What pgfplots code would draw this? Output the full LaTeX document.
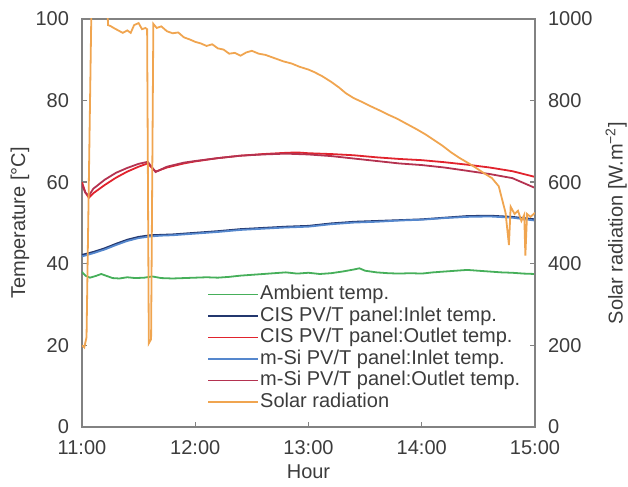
\documentclass[border=0pt]{standalone}
\usepackage{fontspec}
\setmainfont{Liberation Sans}
\usepackage{pgfplots}
\pgfplotsset{compat=1.18}
\definecolor{cAmb}{RGB}{70,175,90}
\definecolor{cCisIn}{RGB}{35,55,110}
\definecolor{cCisOut}{RGB}{225,35,45}
\definecolor{cSiIn}{RGB}{85,135,205}
\definecolor{cSiOut}{RGB}{180,50,80}
\definecolor{cSolar}{RGB}{240,165,80}
\definecolor{cAxis}{RGB}{130,130,130}
\definecolor{cText}{RGB}{60,60,60}
\pgfplotsset{
  common/.style={
    scale only axis, width=226.5pt, height=204pt,
    xmin=11, xmax=15,
    tick align=inside,
    major tick length=2.5pt,
    axis line style={cAxis, line width=0.8pt},
    every tick/.style={cAxis, line width=0.7pt},
    tick label style={font=\fontsize{10}{12}\selectfont, text=cText},
    label style={font=\fontsize{10}{12}\selectfont, text=cText},
    /pgf/number format/assume math mode=true,
    /pgf/number format/1000 sep={},
  }
}
\begin{document}
\begin{tikzpicture}
\begin{axis}[common, name=main,
  ymin=0, ymax=100,
  xtick={11,12,13,14,15},
  xticklabels={11:00,12:00,13:00,14:00,15:00},
  xtick pos=bottom,
  ytick={0,20,...,100},
  ytick pos=left,
  xticklabel style={yshift=-3pt},
  yticklabel style={xshift=-3pt},
  xlabel={Hour},
  xlabel style={at={(axis description cs:0.5,-0.11)}, anchor=center},
  ylabel={Temperature [°C]},
  ylabel style={at={(axis description cs:-0.137,0.5)}, anchor=center},
  legend style={draw=none, fill=none, at={(axis description cs:0.276,0.352)}, anchor=north west,
    font=\fontsize{10}{12}\selectfont, text=cText, inner sep=0pt, row sep=0pt,
    nodes={inner sep=0.5pt, text height=7.6pt, text depth=2.15pt}},
  legend cell align=left,
  legend image code/.code={\draw[#1] (0pt,0pt) -- (25pt,0pt);},
  every axis plot/.append style={line width=0.9pt},
]
\addplot[cAmb] coordinates {
(11.00,38.0) (11.03,37.1) (11.07,36.6) (11.12,37.0) (11.17,37.5) (11.22,37.0) (11.27,36.5)
(11.33,36.4) (11.40,36.7) (11.47,36.5) (11.55,36.6) (11.62,36.9) (11.70,36.5) (11.80,36.4)
(11.90,36.5) (12.00,36.6) (12.10,36.7) (12.20,36.6) (12.30,36.8) (12.40,37.1) (12.50,37.3)
(12.60,37.5) (12.70,37.7) (12.80,37.9) (12.90,37.6) (13.00,37.8) (13.10,37.5) (13.20,37.7)
(13.30,38.1) (13.40,38.6) (13.45,38.9) (13.50,38.3) (13.60,37.9) (13.70,37.7) (13.80,37.6)
(13.90,37.7) (14.00,37.6) (14.10,37.9) (14.20,38.1) (14.30,38.3) (14.40,38.5) (14.50,38.3)
(14.60,38.1) (14.70,37.9) (14.80,37.8) (14.90,37.6) (15.00,37.5)};
\addlegendentry{Ambient temp.}
\addplot[cCisIn] coordinates {
(11.00,42.2) (11.10,42.9) (11.20,43.8) (11.30,44.9) (11.40,45.9) (11.50,46.6) (11.60,47.0)
(11.70,47.1) (11.80,47.2) (11.90,47.4) (12.00,47.6) (12.20,48.0) (12.40,48.5) (12.60,48.8)
(12.80,49.1) (13.00,49.3) (13.20,49.9) (13.40,50.3) (13.60,50.5) (13.80,50.7) (14.00,50.9)
(14.20,51.3) (14.40,51.7) (14.60,51.8) (14.80,51.5) (15.00,50.9)};
\addlegendentry{CIS PV/T panel:Inlet temp.}
\addplot[cCisOut] coordinates {
(11.00,60.0) (11.03,57.5) (11.06,56.2) (11.10,57.3) (11.20,59.3) (11.30,61.1) (11.40,62.6)
(11.50,63.8) (11.58,64.6) (11.65,62.6) (11.75,63.6) (11.90,64.6) (12.00,65.1) (12.20,65.9)
(12.40,66.5) (12.60,66.9) (12.80,67.2) (12.90,67.3) (13.00,67.1) (13.20,66.9) (13.40,66.6)
(13.60,66.1) (13.80,65.7) (14.00,65.4) (14.20,64.9) (14.40,64.3) (14.60,63.6) (14.80,62.7)
(15.00,61.3)};
\addlegendentry{CIS PV/T panel:Outlet temp.}
\addplot[cSiIn] coordinates {
(11.00,41.8) (11.10,42.6) (11.20,43.5) (11.30,44.6) (11.40,45.6) (11.50,46.3) (11.60,46.7)
(11.70,46.9) (11.80,47.0) (11.90,47.2) (12.00,47.4) (12.20,47.8) (12.40,48.3) (12.60,48.6)
(12.80,48.9) (13.00,49.1) (13.20,49.7) (13.40,50.1) (13.60,50.3) (13.80,50.6) (14.00,50.8)
(14.20,51.2) (14.40,51.5) (14.60,51.6) (14.80,51.3) (15.00,50.6)};
\addlegendentry{m-Si PV/T panel:Inlet temp.}
\addplot[cSiOut] coordinates {
(11.00,59.4) (11.03,57.4) (11.06,56.7) (11.10,58.4) (11.20,60.6) (11.30,62.3) (11.40,63.5)
(11.50,64.5) (11.58,65.0) (11.65,62.5) (11.75,63.8) (11.90,64.8) (12.00,65.2) (12.20,65.9)
(12.40,66.5) (12.60,66.8) (12.80,67.0) (13.00,66.8) (13.20,66.4) (13.40,65.8) (13.60,65.2)
(13.80,64.6) (14.00,64.2) (14.20,63.6) (14.40,62.8) (14.60,62.0) (14.80,61.0) (15.00,58.6)};
\addlegendentry{m-Si PV/T panel:Outlet temp.}
\addlegendimage{cSolar, line width=0.9pt}
\addlegendentry{Solar radiation}
\end{axis}
\begin{axis}[common,
  ymin=0, ymax=1000,
  axis x line=none,
  axis y line*=right,
  ytick={0,200,...,1000},
  yticklabel style={xshift=3pt},
  ylabel={Solar radiation [W.m\textsuperscript{−2}]},
  ylabel style={at={(axis description cs:1.179,0.5)}, anchor=center, rotate=0},
]
\addplot[cSolar, line width=0.9pt] coordinates {
(11.00,200) (11.02,195) (11.04,220) (11.085,1060) (11.22,1060) (11.23,985) (11.25,983)
(11.28,978) (11.32,972) (11.36,966) (11.40,972) (11.43,966) (11.46,985) (11.50,990)
(11.53,975) (11.56,978) (11.575,975) (11.59,205) (11.61,215) (11.63,988) (11.66,978)
(11.70,982) (11.75,970) (11.80,965) (11.85,967) (11.90,955) (11.95,950) (12.00,944)
(12.05,940) (12.10,934) (12.15,938) (12.20,928) (12.25,925) (12.30,915) (12.35,917)
(12.40,910) (12.45,918) (12.50,922) (12.56,915) (12.62,912) (12.70,904) (12.78,896)
(12.85,891) (12.92,883) (13.00,876) (13.05,870) (13.12,860) (13.20,846) (13.27,832)
(13.33,818) (13.40,806) (13.47,797) (13.55,786) (13.62,777) (13.70,766) (13.78,756)
(13.86,744) (13.96,729) (14.04,716) (14.11,703) (14.18,690) (14.26,673) (14.33,660)
(14.41,647) (14.48,635) (14.55,622) (14.62,610) (14.68,590) (14.74,525) (14.77,446)
(14.785,540) (14.82,522) (14.85,530) (14.88,505) (14.905,520) (14.915,420) (14.93,522)
(14.96,515) (15.00,525)};
\end{axis}
\pgfresetboundingbox
\path (main.south west) ++(-41pt,-30pt) rectangle ++(314pt,243.5pt);
\end{tikzpicture}
\end{document}
